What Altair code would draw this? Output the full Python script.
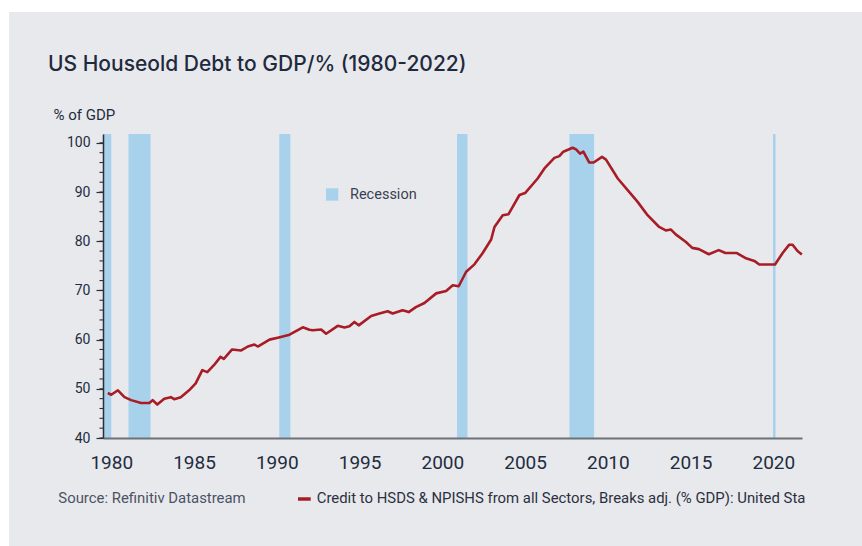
import altair as alt
import pandas as pd

# ---------------- data ----------------
years = [1979.79, 1980.0, 1980.4, 1980.8, 1981.2, 1981.8, 1982.3, 1982.5, 1982.78, 1983.2,
         1983.6, 1983.8, 1984.2, 1984.7, 1985.1, 1985.5, 1985.8, 1986.2, 1986.6, 1986.8,
         1987.3, 1987.85, 1988.25, 1988.65, 1988.85, 1989.56, 1990.06, 1990.77, 1991.57, 1991.97,
         1992.17, 1992.68, 1992.98, 1993.68, 1994.09, 1994.39, 1994.69, 1994.95, 1995.7, 1996.2,
         1996.7, 1997.0, 1997.6, 1997.97, 1998.4, 1998.92, 1999.63, 2000.23, 2000.63, 2000.99,
         2001.44, 2001.94, 2002.44, 2002.95, 2003.15, 2003.65, 2004.0, 2004.66, 2005.0, 2005.76,
         2006.17, 2006.77, 2007.07, 2007.31, 2007.87, 2008.08, 2008.32, 2008.52, 2008.88, 2009.14,
         2009.65, 2009.89, 2010.6, 2011.3, 2011.8, 2012.4, 2013.1, 2013.5, 2013.8, 2014.1,
         2014.7, 2015.1, 2015.5, 2016.1, 2016.7, 2017.1, 2017.8, 2018.3, 2018.85, 2019.15,
         2020.1, 2020.56, 2020.96, 2021.16, 2021.46, 2021.72]
debt = [49.15, 48.8, 49.7, 48.3, 47.7, 47.1, 47.1, 47.7, 46.8, 48.0,
        48.3, 47.9, 48.3, 49.7, 51.1, 53.8, 53.4, 54.8, 56.5, 56.1,
        58.0, 57.8, 58.6, 59.0, 58.6, 60.0, 60.4, 61.0, 62.5, 62.0,
        61.9, 62.05, 61.2, 62.8, 62.45, 62.7, 63.6, 62.9, 64.8, 65.3,
        65.77, 65.3, 65.97, 65.6, 66.6, 67.45, 69.4, 69.9, 71.06, 70.85,
        73.8, 75.3, 77.6, 80.35, 82.9, 85.3, 85.5, 89.4, 89.8, 92.75,
        94.8, 96.95, 97.3, 98.2, 99.0, 98.66, 97.8, 98.2, 96.0, 96.0,
        97.15, 96.6, 92.75, 90.0, 88.0, 85.3, 82.9, 82.2, 82.4, 81.4,
        79.9, 78.65, 78.4, 77.36, 78.2, 77.6, 77.6, 76.6, 76.0, 75.26,
        75.26, 77.6, 79.3, 79.3, 78.0, 77.3]

rec_start = [1979.5, 1981.04, 1990.15, 2000.89, 2007.68, 2019.98]
rec_end = [1980.0, 1982.37, 1990.82, 2001.52, 2009.17, 2020.13]

x_ticks = [1980, 1985, 1990, 1995, 2000, 2005, 2010, 2015, 2020]
y_ticks = [40, 50, 60, 70, 80, 90, 100]
y_minor = [v for v in range(40, 101, 2)]

TITLE = "US Houseold Debt to GDP/% (1980-2022)"
Y_TITLE = "% of GDP"
REC_LABEL = "Recession"
SOURCE = "Source: Refinitiv Datastream"
SERIES_LABEL = "Credit to HSDS & NPISHS from all Sectors, Breaks adj. (% GDP): United States"

# ---------------- style ----------------
W, H = 699, 304
BG = "#e8e9ed"
LINE = "#a81c25"
REC = "#a8d1ec"
DARK = "#232c3d"
FONT = "Roboto"

df = pd.DataFrame({"year": years, "debt": debt})
rec = pd.DataFrame({"start": rec_start, "end": rec_end})
one = pd.DataFrame({"a": [0]})

xscale = alt.Scale(domain=[1979.5, 2021.73], nice=False, zero=False)
yscale = alt.Scale(domain=[40, 101.8], nice=False, zero=False)

panel = alt.Chart(one).mark_rect(color=BG).encode(
    x=alt.value(-94), x2=alt.value(759), y=alt.value(-122), y2=alt.value(412)
)

bars = alt.Chart(rec).mark_rect(color=REC).encode(
    x=alt.X("start:Q", scale=xscale,
            axis=alt.Axis(values=x_ticks, format="d", title=None, grid=False,
                          ticks=False, tickSize=0, labelFontSize=19, labelFont=FONT,
                          labelColor=DARK, labelPadding=15, domainColor="#6f7178",
                          domainWidth=2, zindex=1, labelFlush=False)),
    x2="end:Q",
    y=alt.value(0), y2=alt.value(H),
)

line = alt.Chart(df).mark_line(color=LINE, strokeWidth=2.6, strokeJoin="round").encode(
    x=alt.X("year:Q", scale=xscale),
    y=alt.Y("debt:Q", scale=yscale,
            axis=alt.Axis(values=y_ticks, title=Y_TITLE, grid=False, tickSize=7,
                          tickColor="#2b2f3a", tickWidth=1.2, domainColor="#2b2f3a",
                          domainWidth=1.5, labelFontSize=14, labelFont=FONT,
                          labelColor=DARK, labelPadding=6, zindex=1,
                          titleAngle=0, titleX=-50, titleY=-20, titleAlign="left",
                          titleBaseline="middle", titleFont=FONT, titleFontSize=15,
                          titleFontWeight="normal", titleColor=DARK)),
)

minor = alt.Chart(pd.DataFrame({"m": y_minor})).mark_rule(color="#2b2f3a", strokeWidth=1.1).encode(
    y=alt.Y("m:Q", scale=yscale), x=alt.value(-3.5), x2=alt.value(0)
)

title = alt.Chart(one).transform_calculate(t=f"'{TITLE}'").mark_text(
    font="Inter", fontSize=21, fontWeight=500, color="#1f2a3c", align="left", baseline="alphabetic"
).encode(x=alt.value(-55), y=alt.value(-63), text="t:N")

rec_box = alt.Chart(one).mark_rect(color=REC).encode(
    x=alt.value(223), x2=alt.value(235.3), y=alt.value(54.3), y2=alt.value(66.7)
)
rec_text = alt.Chart(one).transform_calculate(t=f"'{REC_LABEL}'").mark_text(
    font=FONT, fontSize=14.5, color="#3a4152", align="left", baseline="middle"
).encode(x=alt.value(247), y=alt.value(61), text="t:N")

source = alt.Chart(one).transform_calculate(t=f"'{SOURCE}'").mark_text(
    font=FONT, fontSize=14.9, color="#4b5264", align="left", baseline="middle"
).encode(x=alt.value(-44.7), y=alt.value(365.3), text="t:N")

swatch = alt.Chart(one).mark_rule(color=LINE, strokeWidth=3.5).encode(
    x=alt.value(195), x2=alt.value(207.7), y=alt.value(365), y2=alt.value(365)
)
series_text = alt.Chart(one).transform_calculate(t=f"'{SERIES_LABEL}'").mark_text(
    font=FONT, fontSize=14.9, color="#2b3040", align="left", baseline="middle",
    limit=490, ellipsis="\u200b"
).encode(x=alt.value(213.7), y=alt.value(365.3), text="t:N")

chart = alt.layer(
    panel, bars, minor, line, title, rec_box, rec_text, source, swatch, series_text
).properties(
    width=W, height=H,
    padding={"left": 103, "top": 134, "right": 60, "bottom": 108},
    autosize=alt.AutoSizeParams(type="none"),
    background="white",
).configure_view(stroke=None, fill=None)

chart.save("out.html", embed_options={"renderer": "svg", "actions": False})
